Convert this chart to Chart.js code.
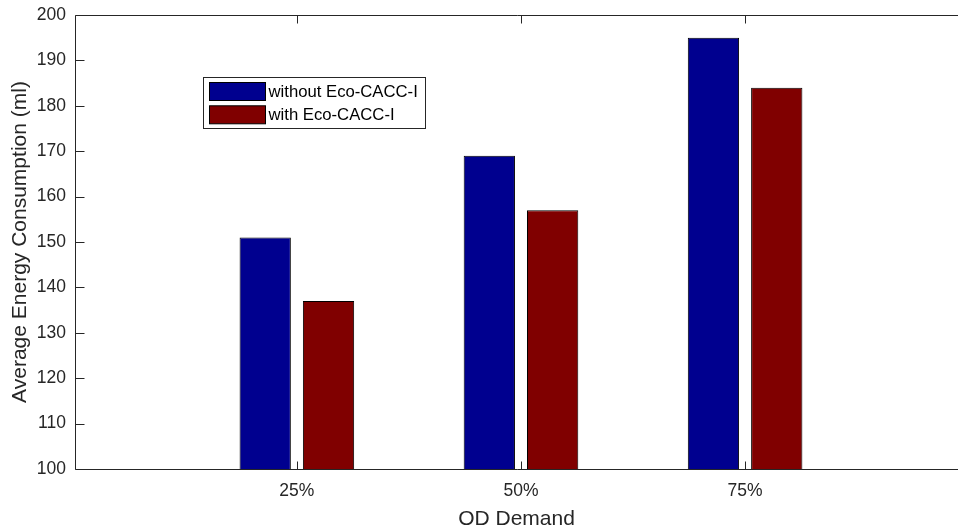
<!DOCTYPE html>
<html>
<head>
<meta charset="utf-8">
<script src="https://cdn.jsdelivr.net/npm/chart.js@4/dist/chart.umd.min.js"></script>
<style>
  html, body { margin: 0; padding: 0; background: #fff; overflow: hidden; }
  canvas { display: block; }
</style>
</head>
<body>
<canvas id="energyChart" width="958" height="529"></canvas>
<script>
/* Average energy consumption by OD demand — grouped bars, MATLAB look */

// data
var categories = ['25%', '50%', '75%'];
var withoutEco = [151, 169, 195];
var withEco = [137, 157, 184];
var seriesNames = ['without Eco-CACC-I', 'with Eco-CACC-I'];
var seriesColors = ['#00008F', '#800000'];
var yTicks = [100, 110, 120, 130, 140, 150, 160, 170, 180, 190, 200];

var axisColor = '#262626';
var fontFamily = '"Liberation Sans", Arial, Helvetica, sans-serif';

function points(values) {
    return values.map(function (v, i) { return { x: i + 1, y: v }; });
}

// axes box, inward ticks and the boxed legend drawn on top
var matlabAxes = {
    id: 'matlabAxes',
    afterDraw: function (chart) {
        var ctx = chart.ctx, a = chart.chartArea;
        var xs = chart.scales.x, ys = chart.scales.y;
        var L = Math.round(a.left) + 0.5, T = Math.round(a.top) + 0.5, B = Math.round(a.bottom) + 0.5;
        ctx.save();
        ctx.strokeStyle = axisColor;
        ctx.lineWidth = 1;
        ctx.beginPath();
        ctx.moveTo(a.right + 2, T); ctx.lineTo(L, T); ctx.lineTo(L, B); ctx.lineTo(a.right + 2, B);
        // y ticks pointing in
        yTicks.forEach(function (v) {
            var y = Math.round(ys.getPixelForValue(v)) + 0.5;
            ctx.moveTo(L, y); ctx.lineTo(L + 9, y);
        });
        // x ticks, bottom and top
        categories.forEach(function (c, i) {
            var x = Math.round(xs.getPixelForValue(i + 1)) + 0.5;
            ctx.moveTo(x, B); ctx.lineTo(x, B - 8);
            ctx.moveTo(x, T); ctx.lineTo(x, T + 8);
        });
        ctx.stroke();

        // legend
        var lx = 203.5, ly = 77.5, lw = 222, lh = 51;
        ctx.fillStyle = '#fff';
        ctx.fillRect(lx, ly, lw, lh);
        ctx.strokeStyle = axisColor;
        ctx.strokeRect(lx, ly, lw, lh);
        ctx.font = '16.7px ' + fontFamily;
        ctx.textBaseline = 'middle';
        ctx.textAlign = 'left';
        chart.data.datasets.forEach(function (ds, i) {
            var sy = 82 + i * 23.3;
            ctx.fillStyle = ds.backgroundColor;
            ctx.fillRect(209.5, sy + 0.5, 56, 18);
            ctx.strokeStyle = '#000';
            ctx.strokeRect(209.5, sy + 0.5, 56, 18);
            ctx.fillStyle = '#000';
            ctx.fillText(ds.label, 268.5, sy + 10);
        });
        ctx.restore();
    }
};

new Chart(document.getElementById('energyChart'), {
    type: 'bar',
    data: {
        datasets: [
            { label: seriesNames[0], data: points(withoutEco), backgroundColor: seriesColors[0],
              borderColor: '#000', borderWidth: 1, borderSkipped: false },
            { label: seriesNames[1], data: points(withEco), backgroundColor: seriesColors[1],
              borderColor: '#000', borderWidth: 1, borderSkipped: false }
        ]
    },
    options: {
        responsive: false,
        animation: false,
        devicePixelRatio: 1,
        categoryPercentage: 0.565,
        barPercentage: 0.81,
        layout: { padding: { top: 15, right: 0, bottom: 0, left: 0 } },
        plugins: { legend: { display: false }, tooltip: { enabled: false } },
        scales: {
            x: {
                type: 'linear',
                offset: false,
                min: 0.01,
                max: 3.95,
                grid: { display: false, drawTicks: false },
                border: { display: false },
                afterBuildTicks: function (s) {
                    s.ticks = categories.map(function (c, i) { return { value: i + 1 }; });
                },
                afterFit: function (s) {
                    s.height = 60;
                    s.paddingLeft = 0; s.paddingRight = 0;
                },
                ticks: {
                    autoSkip: false, maxRotation: 0, padding: 12,
                    color: axisColor, font: { family: fontFamily, size: 17.5 },
                    callback: function (v) { return categories[v - 1] || ''; }
                },
                title: {
                    display: true, text: 'OD Demand', color: axisColor,
                    font: { family: fontFamily, size: 21 }, padding: { top: 0, bottom: -3 }
                }
            },
            y: {
                min: 100,
                max: 200,
                grid: { display: false, drawTicks: false },
                border: { display: false },
                afterBuildTicks: function (s) {
                    s.ticks = yTicks.map(function (v) { return { value: v }; });
                },
                afterFit: function (s) {
                    s.width = 75;
                    s.paddingTop = 0; s.paddingBottom = 0;
                },
                ticks: {
                    padding: 9, color: axisColor,
                    font: { family: fontFamily, size: 17.5 }
                },
                title: {
                    display: true, text: 'Average Energy Consumption (ml)', color: axisColor,
                    font: { family: fontFamily, size: 21 }, padding: { top: 8, bottom: 0 }
                }
            }
        }
    },
    plugins: [matlabAxes]
});
</script>
</body>
</html>
